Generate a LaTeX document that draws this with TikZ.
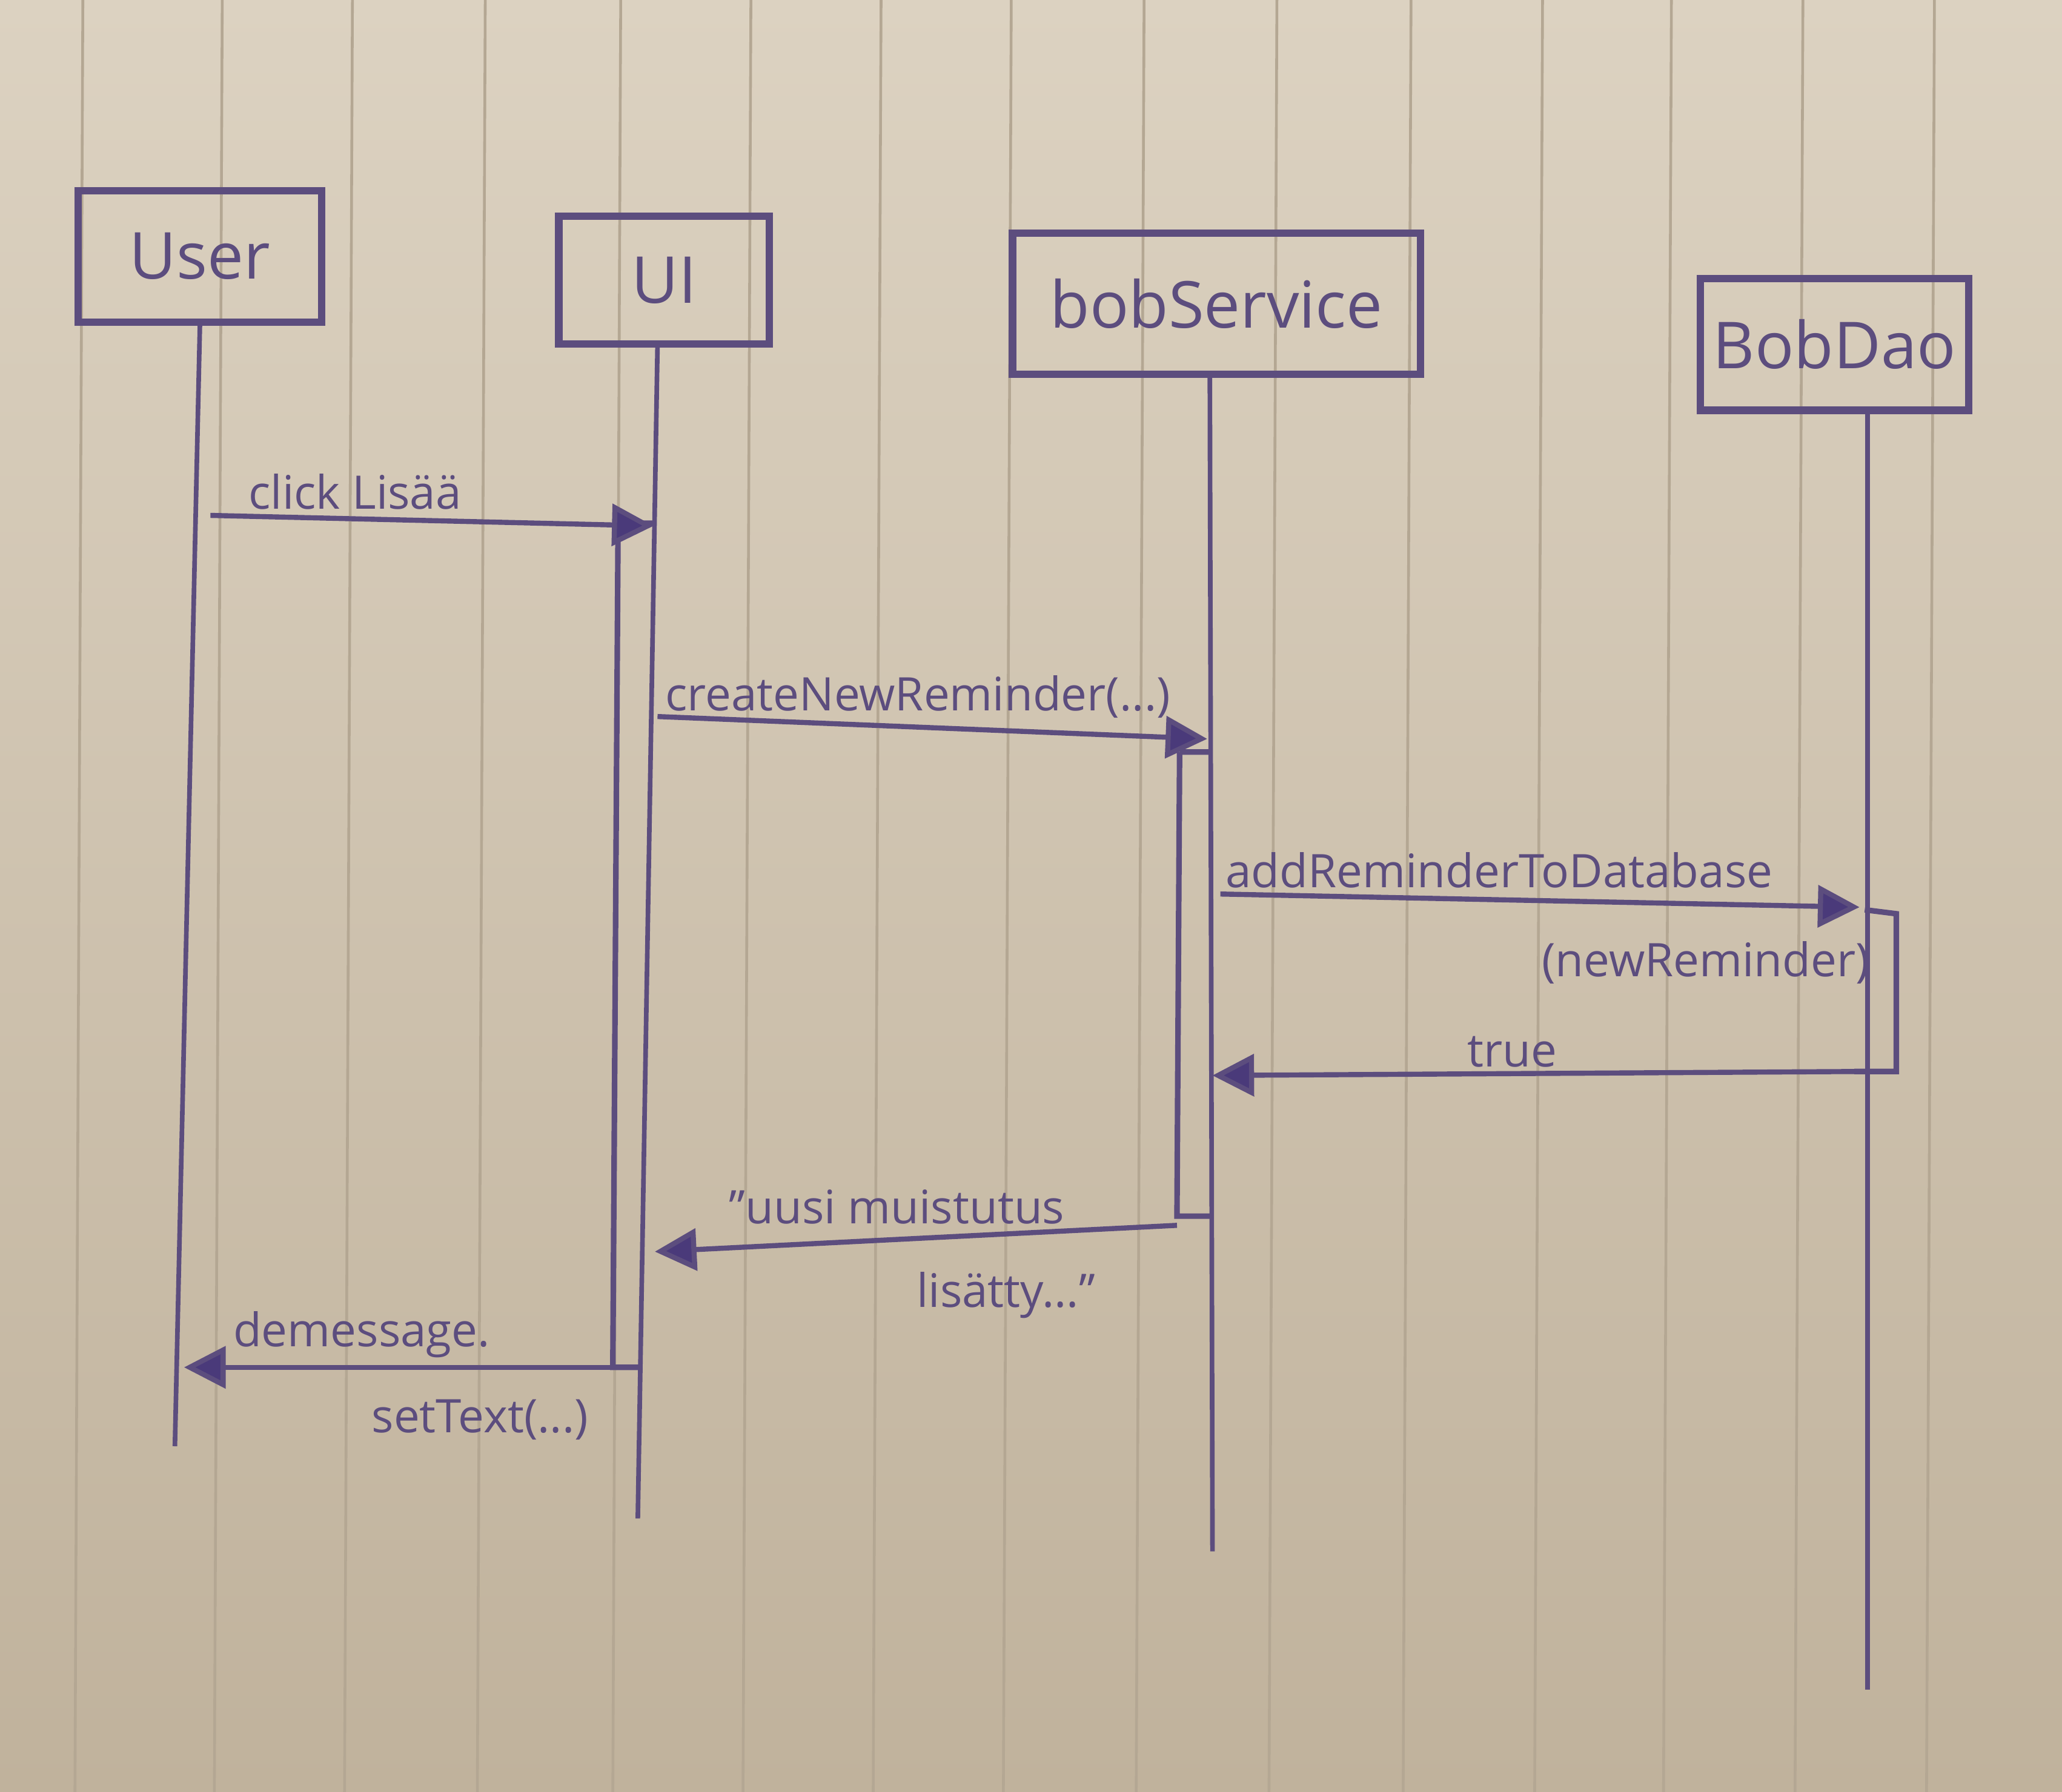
\documentclass[tikz,border=0pt]{standalone}
\usepackage{fontspec}
\setmainfont{Open Sans}
\usetikzlibrary{arrows.meta}
\definecolor{paperTop}{HTML}{DCD2C1}
\definecolor{paperBot}{HTML}{C0B29C}
\definecolor{rule}{HTML}{B4A793}
\definecolor{ink}{HTML}{5C4D7E}
\definecolor{inkdark}{HTML}{4A3A7A}
\begin{document}
\begin{tikzpicture}[x=0.01cm,y=-0.01cm,
  actor/.style={draw=ink, line width=1.6pt, text=ink, inner sep=0pt,
    font=\fontsize{14}{17}\selectfont},
  life/.style={draw=ink, line width=1pt},
  bar/.style={draw=ink, line width=1.2pt},
  msg/.style={draw=ink, line width=1.1pt,
    -{Triangle[length=9pt,width=9pt,fill=inkdark]}},
  lbl/.style={text=ink, inner sep=0pt, font=\fontsize{10}{12}\selectfont}]

% paper
\useasboundingbox (0,0) rectangle (1568,1363);
\shade[top color=paperTop, bottom color=paperBot] (0,0) rectangle (1568,1363);
\foreach \rx in {63,169,268,369,472,571,670,769,870,971,1073,1173,1271,1371,1471}
  \draw[rule, line width=0.6pt] (\rx,0) -- (\rx-6,1363);

% participants
\node[actor, minimum width=1.85cm, minimum height=1.0cm]  (user) at (152,195) {User};
\node[actor, minimum width=1.6cm,  minimum height=0.97cm] (ui)   at (505,213) {UI};
\node[actor, minimum width=3.1cm,  minimum height=1.07cm] (svc)  at (925,231) {bobService};
\node[actor, minimum width=2.04cm, minimum height=1.0cm]  (dao)  at (1395,262) {BobDao};

% lifelines
\coordinate (userEnd) at (133,1100);
\coordinate (uiTop)   at (500,262);
\coordinate (uiEnd)   at (485,1155);
\coordinate (svcTop)  at (920,285);
\coordinate (svcEnd)  at (922,1180);
\coordinate (daoTop)  at (1420,312);
\coordinate (daoEnd)  at (1420,1285);
\draw[life] (user.south) -- (userEnd);
\draw[life] (uiTop) -- (uiEnd);
\draw[life] (svcTop) -- (svcEnd);
\draw[life] (daoTop) -- (daoEnd);

% activation bars
\draw[bar] (470,398) -- (498,398) (470,398) -- (466,1040) -- (487,1040);
\draw[bar] (897,572) -- (921,572) (897,572) -- (895,925) -- (921,925);
\draw[bar] (1418,692) -- (1442,695) -- (1442,815) -- (1410,815);

% message end points
\coordinate (m1s) at (160,392);  \coordinate (m1e) at (497,400);
\coordinate (m2s) at (500,545);  \coordinate (m2e) at (918,562);
\coordinate (m3s) at (928,680);  \coordinate (m3e) at (1414,690);
\coordinate (m4s) at (1410,815); \coordinate (m4e) at (922,818);
\coordinate (m5s) at (895,932);  \coordinate (m5e) at (498,952);
\coordinate (m6s) at (487,1040); \coordinate (m6e) at (140,1040);

% messages
\draw[msg] (m1s) -- (m1e);
\draw[msg] (m2s) -- (m2e);
\draw[msg] (m3s) -- (m3e);
\draw[msg] (m4s) -- (m4e);
\draw[msg] (m5s) -- (m5e);
\draw[msg] (m6s) -- (m6e);

% labels
\node[lbl] (l1)  at (270,374)  {click Lisää};
\node[lbl] (l2)  at (698,530)  {createNewReminder(...)};
\node[lbl] (l3a) at (1140,662) {addReminderToDatabase};
\node[lbl] (l3b) at (1297,732) {(newReminder)};
\node[lbl] (l4)  at (1150,800) {true};
\node[lbl] (l5a) at (682,918)  {”uusi muistutus};
\node[lbl] (l5b) at (765,985)  {lisätty...”};
\node[lbl] (l6a) at (275,1015) {demessage.};
\node[lbl] (l6b) at (365,1080) {setText(...)};
\end{tikzpicture}
\end{document}
